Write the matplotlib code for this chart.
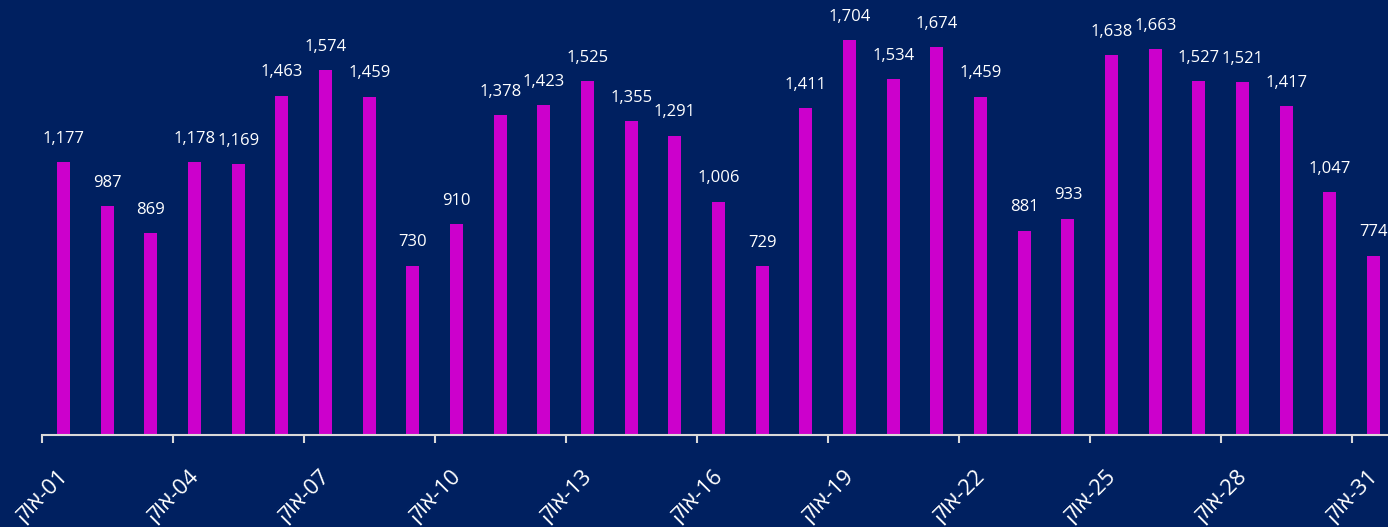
import matplotlib.pyplot as plt

plt.rcParams['font.family'] = ['Open Sans', 'DejaVu Sans']

month = 'אוק'
days = list(range(1, 32))
visits = [1177, 987, 869, 1178, 1169, 1463, 1574, 1459, 730, 910,
          1378, 1423, 1525, 1355, 1291, 1006, 729, 1411, 1704, 1534,
          1674, 1459, 881, 933, 1638, 1663, 1527, 1521, 1417, 1047, 774]
tick_days = list(range(1, 32, 3))

bg = '#002060'
bar_color = '#CC00CC'

fig = plt.figure(figsize=(13.88, 5.27), dpi=100, facecolor=bg)
ax = fig.add_axes([0.03, 0.1746, 0.97, 0.8254], facecolor=bg)

ax.bar(days, visits, width=0.3, color=bar_color)

for d, v in zip(days, visits):
    ax.annotate(f'{v:,}', (d, v), xytext=(0, 11), textcoords='offset points',
                ha='center', va='bottom', color='white', fontsize=12)

ax.set_xlim(0.5, 31.33)
ax.set_ylim(0, 1876)

# matplotlib has no bidi, so the Hebrew month is reversed to show in visual order
ax.set_xticks([d - 0.5 for d in tick_days])
ax.set_xticklabels([f'{month[::-1]}-{d:02d}' for d in tick_days],
                   rotation=45, ha='center', va='top', color='white', fontsize=16)
ax.tick_params(axis='x', colors='#D9D9D9', length=6, width=1.5, pad=16, labelcolor='white')
ax.set_yticks([])

for s in ['top', 'right', 'left']:
    ax.spines[s].set_visible(False)
ax.spines['bottom'].set_color('#D9D9D9')
ax.spines['bottom'].set_linewidth(1.5)

fig.savefig('out.png', dpi=100, facecolor=bg)
